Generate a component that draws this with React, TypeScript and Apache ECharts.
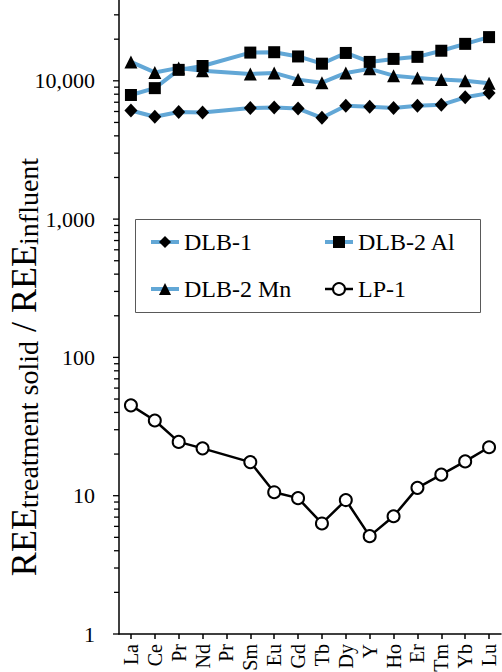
import React, { useEffect, useRef } from 'react';
import * as echarts from 'echarts';

const categories = ['La', 'Ce', 'Pr', 'Nd', 'Pr', 'Sm', 'Eu', 'Gd', 'Tb', 'Dy', 'Y', 'Ho', 'Er', 'Tm', 'Yb', 'Lu'];

const dlb1 = [6100, 5500, 5950, 5900, null, 6350, 6400, 6300, 5400, 6600, 6500, 6350, 6600, 6700, 7600, 8150];
const dlb2Al = [7900, 8850, 12000, 12800, null, 16000, 16100, 15000, 13300, 15900, 13700, 14400, 14900, 16500, 18500, 20700];
const dlb2Mn = [13700, 11500, 12400, 11800, null, 11200, 11400, 10200, 9700, 11400, 12200, 10900, 10500, 10200, 10000, 9600];
const lp1 = [45, 35, 24.5, 22, null, 17.5, 10.6, 9.6, 6.3, 9.3, 5.1, 7.1, 11.4, 14.2, 17.7, 22.4];

const yMajorTicks = [1, 10, 100, 1000, 10000];
const yMinorTicks = [
  2, 3, 4, 5, 6, 7, 8, 9,
  20, 30, 40, 50, 60, 70, 80, 90,
  200, 300, 400, 500, 600, 700, 800, 900,
  2000, 3000, 4000, 5000, 6000, 7000, 8000, 9000,
  20000, 30000,
];

const BLUE = '#62A7D6';
const FONT = 'Liberation Serif, Times New Roman, serif';

export default function App() {
  const ref = useRef<HTMLDivElement>(null);
  useEffect(() => {
    if (!ref.current) return;
    const chart = echarts.init(ref.current, undefined, { renderer: 'svg' });
    const legendText = { fontFamily: FONT, fontSize: 24, color: '#000', lineHeight: 24 };
    const legendBase = {
      orient: 'vertical',
      top: 230,
      padding: 0,
      itemWidth: 28,
      itemHeight: 15,
      itemGap: 23,
      z: 10,
      textStyle: legendText,
      selectedMode: false,
    };
    const blueLine = { width: 4, color: BLUE };
    const blackLine = { width: 2.5, color: '#000' };
    chart.setOption({
      animation: false,
      backgroundColor: '#fff',
      grid: { left: 119, right: 1, top: 0, bottom: 38, containLabel: false, outerBoundsMode: 'none' },
      graphic: [
        {
          type: 'rect',
          z: 1,
          shape: { x: 135.5, y: 219.5, width: 345, height: 93 },
          style: { fill: '#fff', stroke: '#595959', lineWidth: 1 },
        },
        {
          type: 'text',
          x: 24,
          y: 367,
          rotation: Math.PI / 2,
          z: 5,
          style: {
            text: '{b|REE}{s|treatment solid}{b| / REE}{s|influent}',
            align: 'center',
            verticalAlign: 'middle',
            fill: '#000',
            fontFamily: FONT,
            rich: {
              b: { fontFamily: FONT, fontSize: 36, lineHeight: 36, fill: '#000', verticalAlign: 'middle' },
              s: { fontFamily: FONT, fontSize: 28, lineHeight: 12, fill: '#000', verticalAlign: 'bottom' },
            },
          },
        },
      ],
      legend: [
        {
          ...legendBase,
          left: 149,
          data: [
            { name: 'DLB-1', lineStyle: blueLine },
            { name: 'DLB-2 Mn', lineStyle: blueLine },
          ],
        },
        {
          ...legendBase,
          left: 323,
          data: [
            { name: 'DLB-2 Al', lineStyle: blueLine },
            { name: 'LP-1', lineStyle: blackLine },
          ],
        },
      ],
      xAxis: {
        type: 'category',
        data: categories,
        boundaryGap: true,
        axisLine: { show: true, lineStyle: { color: '#000', width: 1.5 } },
        axisTick: { show: true, alignWithLabel: true, length: 5, lineStyle: { color: '#000', width: 1.5 } },
        axisLabel: { rotate: 90, interval: 0, fontFamily: FONT, fontSize: 20, color: '#000', margin: 10 },
        splitLine: { show: false },
      },
      yAxis: {
        type: 'log',
        logBase: 10,
        min: 1,
        max: 38400,
        axisLine: { show: true, lineStyle: { color: '#000', width: 1.5 } },
        axisTick: { show: false },
        axisLabel: {
          fontFamily: FONT,
          fontSize: 22,
          color: '#000',
          margin: 24,
          showMaxLabel: false,
          formatter: (v: number) => {
            const l = Math.log10(v);
            if (Math.abs(l - Math.round(l)) > 1e-6) return '';
            return Math.round(v).toLocaleString('en-US');
          },
        },
        splitLine: { show: false },
        minorTick: { show: false },
      },
      series: [
        {
          name: 'DLB-1',
          type: 'line',
          data: dlb1,
          connectNulls: true,
          symbol: 'diamond',
          symbolSize: [13, 14],
          itemStyle: { color: '#000' },
          lineStyle: { color: BLUE, width: 4 },
          z: 3,
        },
        {
          name: 'DLB-2 Al',
          type: 'line',
          data: dlb2Al,
          connectNulls: true,
          symbol: 'rect',
          symbolSize: 12,
          itemStyle: { color: '#000' },
          lineStyle: { color: BLUE, width: 4 },
          z: 3,
        },
        {
          name: 'DLB-2 Mn',
          type: 'line',
          data: dlb2Mn,
          connectNulls: true,
          symbol: 'triangle',
          symbolSize: [13, 13],
          itemStyle: { color: '#000' },
          lineStyle: { color: BLUE, width: 4 },
          z: 3,
        },
        {
          name: 'LP-1',
          type: 'line',
          data: lp1,
          connectNulls: true,
          symbol: 'circle',
          symbolSize: 12,
          itemStyle: { color: '#fff', borderColor: '#000', borderWidth: 2 },
          lineStyle: { color: '#000', width: 2.5 },
          z: 3,
        },
        {
          type: 'custom',
          silent: true,
          clip: false,
          data: yMajorTicks.map((v) => [0, v, 6]).concat(yMinorTicks.map((v) => [0, v, 5])),
          renderItem: (params: any, api: any) => {
            const pt = api.coord([api.value(0), api.value(1)]);
            const x0 = params.coordSys.x;
            const len = api.value(2);
            return {
              type: 'line',
              shape: { x1: x0 - len, y1: pt[1], x2: x0, y2: pt[1] },
              style: { stroke: '#000', lineWidth: 1.3 },
            };
          },
        },
      ],
    });
    return () => chart.dispose();
  }, []);
  return <div ref={ref} style={{ position: 'fixed', left: 0, top: 0, width: 502, height: 672 }} />;
}
